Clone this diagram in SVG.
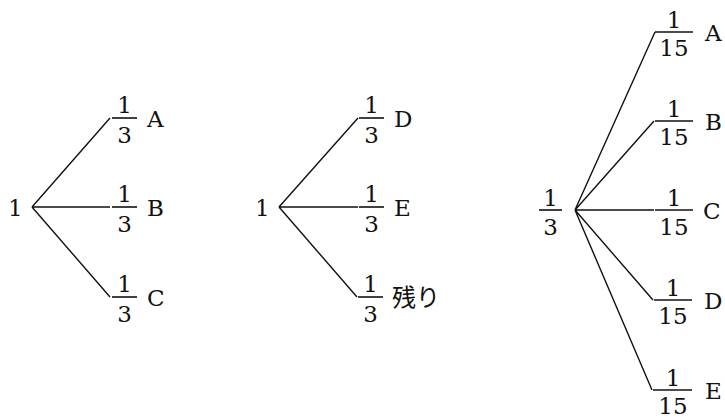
<svg xmlns="http://www.w3.org/2000/svg" width="725" height="420" viewBox="0 0 725 420">
<style>
text{font-family:"DejaVu Serif","Liberation Serif","Noto Sans CJK JP",serif;font-size:23px;fill:#111}
.j{font-family:"Noto Sans CJK JP",sans-serif;font-size:24px}
.m{text-anchor:middle}
.bar{stroke:#111;stroke-width:1.6}
.edge{stroke:#111;stroke-width:1.4;fill:none}
</style>
<rect width="725" height="420" fill="#fff"/>
<g id="connectors">
<path class="edge" d="M32 207L110 118M32 207L110 207M32 207L110 297"/>
<path class="edge" d="M279 207L358 118M279 207L358 207M279 207L357 297"/>
<path class="edge" d="M575 210L655 32M575 210L654 121M575 210L654 210M575 210L653 300M575 210L652 390"/>
</g>
<g id="root1"><text x="8" y="216">1</text></g>
<g id="t1A"><text class="m" x="124.5" y="113">1</text><line class="bar" x1="112" y1="118" x2="137" y2="118"/><text class="m" x="124.5" y="143">3</text><text x="147" y="127">A</text></g>
<g id="t1B"><text class="m" x="124.5" y="202">1</text><line class="bar" x1="112" y1="207" x2="137" y2="207"/><text class="m" x="124.5" y="232">3</text><text x="147" y="216">B</text></g>
<g id="t1C"><text class="m" x="124.5" y="292">1</text><line class="bar" x1="112" y1="297" x2="137" y2="297"/><text class="m" x="124.5" y="322">3</text><text x="147" y="306">C</text></g>
<g id="root2"><text x="255" y="216">1</text></g>
<g id="t2D"><text class="m" x="371.5" y="113">1</text><line class="bar" x1="359" y1="118" x2="384" y2="118"/><text class="m" x="371.5" y="143">3</text><text x="394" y="127">D</text></g>
<g id="t2E"><text class="m" x="371.5" y="202">1</text><line class="bar" x1="359" y1="207" x2="384" y2="207"/><text class="m" x="371.5" y="232">3</text><text x="394" y="216">E</text></g>
<g id="t2R"><text class="m" x="370.5" y="292">1</text><line class="bar" x1="358" y1="297" x2="383" y2="297"/><text class="m" x="370.5" y="322">3</text><text class="j" x="392" y="306">残り</text></g>
<g id="root3"><text class="m" x="550.5" y="206">1</text><line class="bar" x1="539" y1="210" x2="562" y2="210"/><text class="m" x="550.5" y="235">3</text></g>
<g id="t3A"><text class="m" x="674" y="28">1</text><line class="bar" x1="655" y1="32" x2="693" y2="32"/><text class="m" x="674" y="56">15</text><text x="705" y="41">A</text></g>
<g id="t3B"><text class="m" x="674" y="117">1</text><line class="bar" x1="655" y1="121" x2="693" y2="121"/><text class="m" x="674" y="145">15</text><text x="705" y="130">B</text></g>
<g id="t3C"><text class="m" x="674" y="206">1</text><line class="bar" x1="655" y1="210" x2="693" y2="210"/><text class="m" x="674" y="235">15</text><text x="703" y="219">C</text></g>
<g id="t3D"><text class="m" x="673" y="296">1</text><line class="bar" x1="654" y1="300" x2="692" y2="300"/><text class="m" x="673" y="324">15</text><text x="704" y="309">D</text></g>
<g id="t3E"><text class="m" x="673" y="386">1</text><line class="bar" x1="653" y1="390" x2="692" y2="390"/><text class="m" x="673" y="414">15</text><text x="705" y="399">E</text></g>
</svg>
